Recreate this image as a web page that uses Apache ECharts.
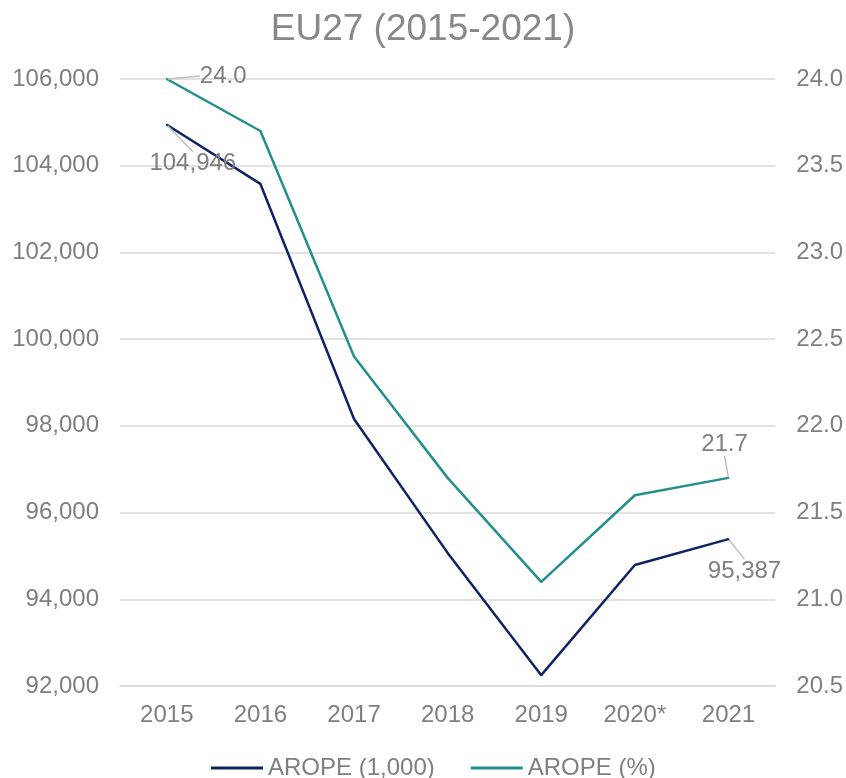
<!DOCTYPE html>
<html>
<head>
<meta charset="utf-8">
<script src="https://cdn.jsdelivr.net/npm/echarts@6/dist/echarts.min.js"></script>
<style>
  html, body { margin: 0; padding: 0; background: #fff; }
  #container1 { width: 846px; height: 778px; }
</style>
</head>
<body>
<div id="container1"></div>
<script>
var years = ["2015", "2016", "2017", "2018", "2019", "2020*", "2021"];
var aropeK = [104946, 103580, 98160, 95070, 92250, 94790, 95387];
var aropePct = [24.0, 23.7, 22.4, 21.7, 21.1, 21.6, 21.7];

var gray = "#7f7f7f";
var font = "Liberation Sans, Arial, sans-serif";

// 只显示首尾两个点的数据标签
function withEnds(values, fmt, posFirst, posLast) {
  return values.map(function (v, i) {
    var item = { value: v };
    if (i === 0) {
      item.label = { show: true, position: posFirst, formatter: fmt(v) };
    } else if (i === values.length - 1) {
      item.label = { show: true, position: posLast, formatter: fmt(v) };
    }
    return item;
  });
}

// 标签偏移（引导线用）
var offsets = {
  "0-0": { dx: 26, dy: 21 },
  "0-6": { dx: 16, dy: 14 },
  "1-0": { dx: 27, dy: -3 },
  "1-6": { dx: -4, dy: -16 }
};

var myChart = echarts.init(document.getElementById("container1"));

var labelLine = {
  show: true,
  length2: 0,
  smooth: false,
  lineStyle: { color: "#bfbfbf", width: 1.5 }
};

var option = {
  animation: false,
  textStyle: { fontFamily: font },
  title: {
    text: "EU27 (2015-2021)",
    left: "center",
    top: 6,
    textStyle: { color: "#888888", fontSize: 37, fontWeight: "normal", fontFamily: font }
  },
  legend: {
    bottom: -7,
    left: 206,
    itemWidth: 52,
    itemHeight: 3,
    itemGap: 36,
    icon: "rect",
    textStyle: { color: gray, fontSize: 24, fontFamily: font },
    data: ["AROPE (1,000)", "AROPE (%)"]
  },
  grid: { left: 120, right: 69, top: 79, bottom: 92 },
  xAxis: {
    type: "category",
    data: years,
    boundaryGap: true,
    axisLine: { show: true, lineStyle: { color: "#d9d9d9", width: 1.5 } },
    axisTick: { show: false },
    axisLabel: { color: gray, fontSize: 24, margin: 17, fontFamily: font }
  },
  yAxis: [
    {
      type: "value",
      min: 92000,
      max: 106000,
      interval: 2000,
      axisLine: { show: false },
      axisTick: { show: false },
      axisLabel: { color: gray, fontSize: 24, margin: 21, fontFamily: font },
      splitLine: { show: true, lineStyle: { color: "#d9d9d9", width: 1.5 } }
    },
    {
      type: "value",
      min: 20.5,
      max: 24.0,
      interval: 0.5,
      axisLine: { show: false },
      axisTick: { show: false },
      axisLabel: {
        color: gray, fontSize: 24, margin: 21, fontFamily: font,
        formatter: function (v) { return v.toFixed(1); }
      },
      splitLine: { show: false }
    }
  ],
  series: [
    {
      name: "AROPE (1,000)",
      type: "line",
      yAxisIndex: 0,
      symbol: "circle",
      symbolSize: 2,
      showSymbol: true,
      color: "#0f2262",
      lineStyle: { width: 2.5, color: "#0f2262" },
      data: withEnds(aropeK, function (v) { return v.toLocaleString("en-US"); }, "bottom", "bottom"),
      label: { show: false, color: gray, fontSize: 24, fontFamily: font },
      labelLine: labelLine,
      labelLayout: function (p) { return offsets[p.seriesIndex + "-" + p.dataIndex] || {}; }
    },
    {
      name: "AROPE (%)",
      type: "line",
      yAxisIndex: 1,
      symbol: "circle",
      symbolSize: 2,
      showSymbol: true,
      color: "#23908e",
      lineStyle: { width: 2.5, color: "#23908e" },
      data: withEnds(aropePct, function (v) { return v.toFixed(1); }, "right", "top"),
      label: { show: false, color: gray, fontSize: 24, fontFamily: font },
      labelLine: labelLine,
      labelLayout: function (p) { return offsets[p.seriesIndex + "-" + p.dataIndex] || {}; }
    }
  ]
};

myChart.setOption(option);
</script>
</body>
</html>
